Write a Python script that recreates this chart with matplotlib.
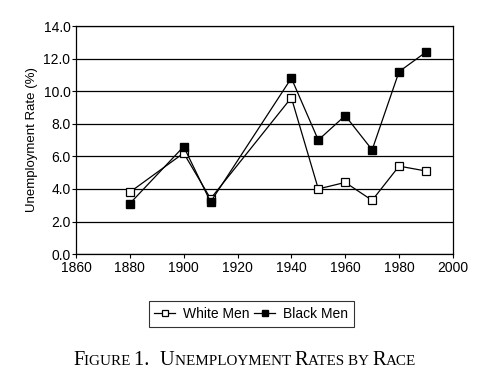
import matplotlib
matplotlib.use("Agg")
import matplotlib.pyplot as plt

years = [1880, 1900, 1910, 1940, 1950, 1960, 1970, 1980, 1990]
white_men = [3.8, 6.2, 3.4, 9.6, 4.0, 4.4, 3.3, 5.4, 5.1]
black_men = [3.1, 6.6, 3.2, 10.8, 7.0, 8.5, 6.4, 11.2, 12.4]

plt.rcParams['font.family'] = ['Liberation Sans', 'DejaVu Sans']

fig = plt.figure(figsize=(4.87, 3.77), dpi=100)
ax = fig.add_axes([0.156, 0.326, 0.774, 0.605])

ax.plot(years, white_men, color='black', lw=0.9, marker='s', ms=5.2,
        mfc='white', mec='black', mew=0.9, label='White Men')
ax.plot(years, black_men, color='black', lw=0.9, marker='s', ms=5.2,
        mfc='black', mec='black', label='Black Men')

ax.set_xlim(1860, 2000)
ax.set_ylim(0, 14)
ax.set_xticks(range(1860, 2001, 20))
ax.set_yticks([i * 2 for i in range(8)])
ax.set_yticklabels(['%.1f' % (i * 2) for i in range(8)])
ax.tick_params(labelsize=10, direction='out', length=3, width=0.8)
ax.tick_params(axis='x', pad=2)
ax.tick_params(axis='y', pad=1)
ax.yaxis.grid(True, color='black', lw=0.9)
ax.set_axisbelow(True)
for s in ax.spines.values():
    s.set_linewidth(0.9)
ax.set_ylabel('Unemployment Rate (%)', fontsize=9.5, labelpad=4)

leg = fig.legend(loc='center', bbox_to_anchor=(0.516, 0.167), ncol=2,
                 fontsize=10, frameon=True, fancybox=False, edgecolor='black',
                 handlelength=1.5, columnspacing=0.3, handletextpad=0.6,
                 borderpad=0.4, markerscale=0.8)
leg.get_frame().set_linewidth(0.8)

# caption in small caps, built piece by piece
serif = ['Liberation Serif', 'DejaVu Serif']
parts = [('F', 14.7), ('IGURE ', 10.9), ('1.  ', 14.7), ('U', 14.7),
         ('NEMPLOYMENT ', 10.9), ('R', 14.7), ('ATES BY ', 10.9), ('R', 14.7),
         ('ACE', 10.9)]
renderer = fig.canvas.get_renderer()
x = 73
y = 377 - 365
for txt, size in parts:
    t = fig.text(x / 487, y / 377, txt, fontsize=size, family=serif,
                 va='baseline', ha='left')
    x = t.get_window_extent(renderer).x1

plt.savefig('out.png', dpi=100)
